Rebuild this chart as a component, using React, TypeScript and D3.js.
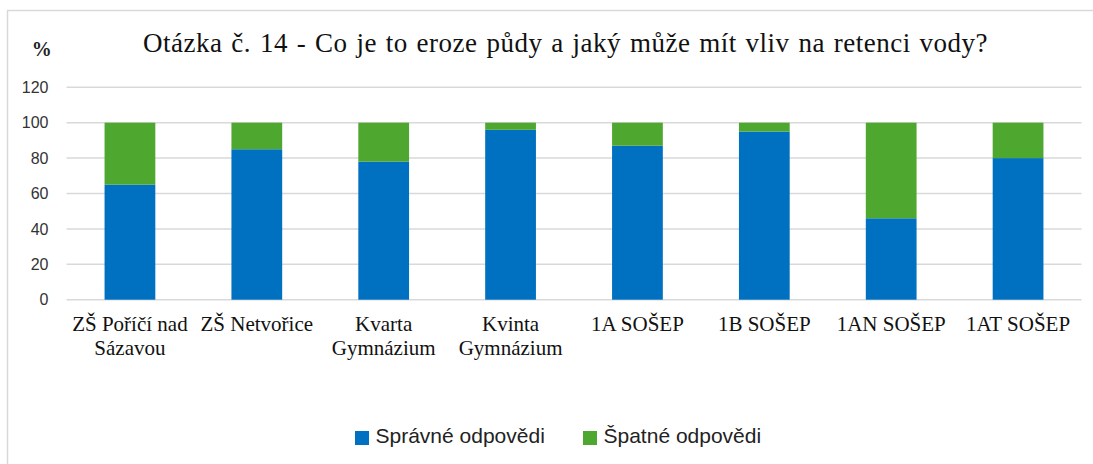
import React from "react";
import * as d3 from "d3";

const categories = [
  ["ZŠ Poříčí nad", "Sázavou"],
  ["ZŠ Netvořice"],
  ["Kvarta", "Gymnázium"],
  ["Kvinta", "Gymnázium"],
  ["1A SOŠEP"],
  ["1B SOŠEP"],
  ["1AN SOŠEP"],
  ["1AT SOŠEP"],
];
const correct = [65, 85, 78, 96, 87, 95, 46, 80];
const wrong = correct.map((v) => 100 - v);
const yTicks = [0, 20, 40, 60, 80, 100, 120];
const seriesNames = ["Správné odpovědi", "Špatné odpovědi"];
const colors = ["#0070C0", "#4EA72E"];

export default function App() {
  const W = 1093, H = 464;
  const left = 66.5, right = 1081.5, top = 87.3, bottom = 299.7;
  const x = d3.scaleBand<number>().domain(d3.range(categories.length)).range([left, right]).paddingInner(0.6).paddingOuter(0.3);
  const y = d3.scaleLinear().domain([0, 120]).range([bottom, top]);
  const serif = "'Liberation Serif', 'Times New Roman', serif";
  const sans = "'Liberation Sans', Arial, sans-serif";
  return (
    <svg width={W} height={H} style={{ position: "absolute", left: 0, top: 0, background: "#fff" }}>
      <rect x={0} y={0} width={W} height={H} fill="#fff" />
      <path d={`M7.5,${H} V10.5 H${W}`} fill="none" stroke="#d9d9d9" strokeWidth={1.5} />
      <text x={143} y={52} fontFamily={serif} fontSize={27} letterSpacing={0.5} wordSpacing={1.6} fill="#111">
        Otázka č. 14 - Co je to eroze půdy a jaký může mít vliv na retenci vody?
      </text>
      <text x={41.7} y={56} textAnchor="middle" fontFamily={serif} fontSize={20} fontWeight="bold" fill="#222">%</text>
      {yTicks.map((t) => (
        <g key={t}>
          <line x1={left} x2={right} y1={y(t)} y2={y(t)} stroke="#d9d9d9" strokeWidth={1.5} />
          <text x={48.5} y={y(t)} dy="0.36em" textAnchor="end" fontFamily={sans} fontSize={16} fill="#333">{t}</text>
        </g>
      ))}
      {categories.map((c, i) => (
        <g key={i}>
          <rect x={x(i)} y={y(correct[i])} width={x.bandwidth()} height={y(0) - y(correct[i])} fill={colors[0]} />
          <rect x={x(i)} y={y(100)} width={x.bandwidth()} height={y(100 - wrong[i]) - y(100)} fill={colors[1]} />
          {c.map((line, j) => (
            <text key={j} x={x(i)! + x.bandwidth() / 2} y={330.7 + j * 24.3} textAnchor="middle" fontFamily={serif} fontSize={21} fill="#111">{line}</text>
          ))}
        </g>
      ))}
      {seriesNames.map((n, i) => (
        <g key={n} transform={`translate(${i === 0 ? 355 : 583},431)`}>
          <rect x={0} y={0} width={14} height={14} fill={colors[i]} />
          <text x={20.5} y={12} fontFamily={sans} fontSize={21} fill="#222">{n}</text>
        </g>
      ))}
    </svg>
  );
}
